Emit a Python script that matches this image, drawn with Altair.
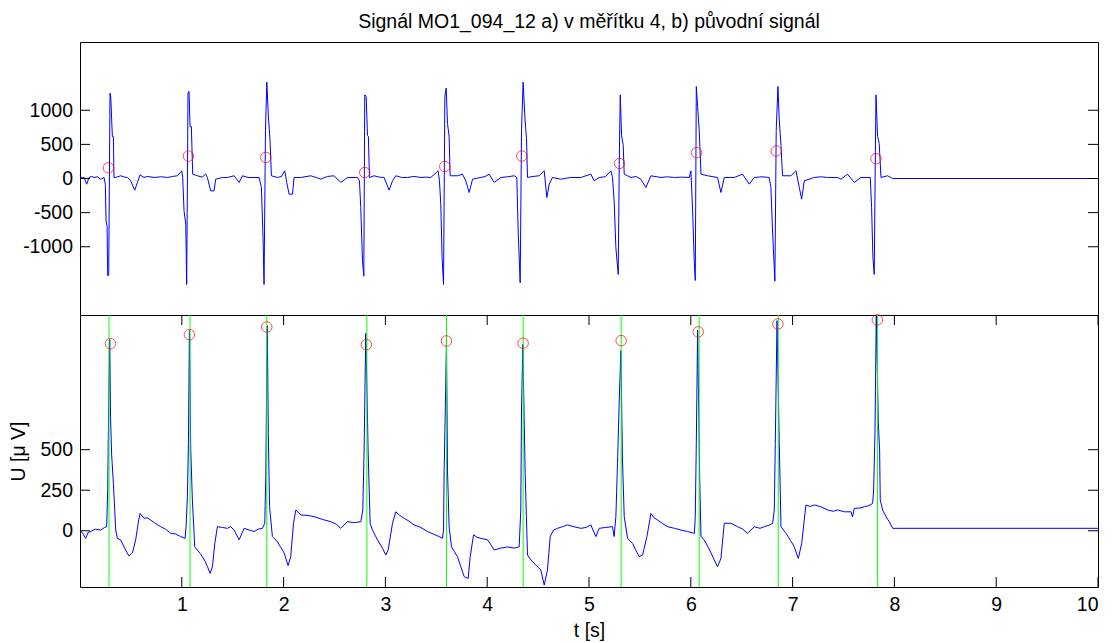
import altair as alt
import pandas as pd

TITLE = "Signál MO1_094_12 a) v měřítku 4, b) původní signál"
X_TITLE = "t [s]"
Y_TITLE = "U [μ V]"

# ---- top panel: signal at scale 4 (wavelet) ----
top_t = [
    0.000, 0.020, 0.040, 0.066, 0.089, 0.115, 0.138, 0.170, 0.203, 0.236, 0.249, 0.256, 0.266, 0.272, 0.282, 0.295, 0.302, 0.318, 0.328, 0.334, 0.351, 0.400, 0.440, 0.466, 0.498, 0.538, 0.564, 0.590, 0.629, 0.660,
    0.728, 0.800, 0.859, 0.910, 0.957, 1.000, 1.009, 1.022, 1.039, 1.048, 1.061, 1.071, 1.081, 1.094, 1.107, 1.153, 1.200, 1.235, 1.251, 1.284, 1.317, 1.333, 1.400, 1.448,
    1.514, 1.563, 1.596, 1.650, 1.710, 1.759, 1.782, 1.798, 1.808, 1.822, 1.835, 1.851, 1.867, 1.880, 1.939, 1.980, 2.011, 2.031, 2.054, 2.087, 2.103, 2.169,
    2.267, 2.320, 2.365, 2.430, 2.496, 2.562, 2.627, 2.726, 2.745, 2.758, 2.775, 2.788, 2.797, 2.811, 2.824, 2.833, 2.843, 2.889, 2.940, 2.987, 3.037, 3.070, 3.102, 3.160, 3.217, 3.280, 3.348, 3.400, 3.446,
    3.518, 3.531, 3.544, 3.557, 3.571, 3.584, 3.597, 3.610, 3.626, 3.636, 3.708, 3.757, 3.790, 3.823, 3.856, 3.938, 3.980, 4.020, 4.068, 4.134, 4.200, 4.265,
    4.291, 4.304, 4.324, 4.337, 4.353, 4.370, 4.386, 4.396, 4.450, 4.511, 4.560, 4.586, 4.609, 4.642, 4.723, 4.822, 4.920, 5.018, 5.051, 5.100, 5.160,
    5.215, 5.231, 5.247, 5.264, 5.287, 5.297, 5.307, 5.320, 5.336, 5.346, 5.412, 5.460, 5.510, 5.559, 5.608, 5.707, 5.770, 5.838, 5.910, 5.985,
    6.001, 6.018, 6.034, 6.044, 6.054, 6.067, 6.083, 6.100, 6.165, 6.263, 6.296, 6.329, 6.427, 6.508, 6.574, 6.623, 6.700, 6.770,
    6.787, 6.803, 6.826, 6.839, 6.856, 6.869, 6.886, 6.901, 6.983, 7.033, 7.066, 7.089, 7.115, 7.213, 7.280, 7.344, 7.442, 7.475, 7.540, 7.606, 7.671,
    7.763, 7.776, 7.789, 7.802, 7.812, 7.819, 7.835, 7.851, 7.868, 7.933, 7.983, 10.0,
]
top_u = [
    40, 10, 15, -83, 15, 30, 15, 25, -10, 15, -83, -622, -700, -1420, -1420, 1250, 1200, 613, 613, 15, 15, 40, 20, 15, -34, -171, -59, 54, 15, 30,
    15, 25, 15, 30, 40, 113, 15, -475, -671, -1553, 1250, 1275, 760, 760, 64, 40, 20, 64, 15, -181, -181, -10, 15, 15,
    40, -59, 40, 15, 15, 15, -132, -867, -1553, 701, 1412, 902, 554, 40, 15, 30, 113, -59, -230, -230, 15, 15,
    40, 15, -10, 30, 40, -59, 15, 15, -34, -426, -1210, -1431, 1226, 1202, 632, 613, 15, 40, 20, 15, -171, -34, 40, 15, 15, 30, 15, 20, 15,
    113, -34, -377, -1162, -1553, 1202, 1324, 809, 613, 40, 40, 64, -34, -205, -10, 15, 30, 64, -59, 15, 25, 40,
    15, -769, -1529, 701, 1412, 902, 583, 15, 30, 40, 113, -279, -83, 15, -10, 15, 15, 64, -34, 15, 25,
    113, 15, -328, -1014, -1406, 211, 1226, 632, 485, 64, 15, 30, -10, -132, 40, 15, 25, 15, 20, 15,
    113, -475, -1210, -1494, 1348, 1054, 701, 64, 40, 15, -205, 15, 15, 64, -83, 15, 25, 15,
    -132, -769, -1504, 701, 1348, 858, 485, 40, 40, 113, -132, -303, -34, 15, 25, 15, 15, -10, 64, -59, 15,
    15, -426, -1162, -1406, 211, 1226, 613, 514, 15, 40, 0, 0,
]

# ---- bottom panel: original signal ----
bot_t = [
    0.000, 0.025, 0.056, 0.080, 0.105, 0.150, 0.203, 0.240, 0.262, 0.272, 0.282, 0.292, 0.300, 0.311, 0.328, 0.351, 0.367, 0.400, 0.440, 0.482, 0.515, 0.547, 0.575, 0.590, 0.629, 0.660, 0.695, 0.740, 0.793, 0.840, 0.891, 0.940, 0.989,
    1.032, 1.042, 1.055, 1.065, 1.075, 1.088, 1.104, 1.127, 1.153, 1.180, 1.202, 1.230, 1.252, 1.278, 1.301, 1.324, 1.350, 1.400, 1.448, 1.480, 1.514, 1.563, 1.612, 1.660, 1.710, 1.750, 1.792,
    1.815, 1.825, 1.831, 1.840, 1.850, 1.862, 1.890, 1.939, 1.970, 2.005, 2.044, 2.070, 2.097, 2.120, 2.169, 2.230, 2.300, 2.380, 2.464, 2.520, 2.562, 2.627, 2.690, 2.759,
    2.778, 2.791, 2.807, 2.818, 2.830, 2.850, 2.873, 2.922, 2.971, 3.004, 3.027, 3.070, 3.102, 3.140, 3.184, 3.230, 3.282, 3.350, 3.413, 3.470, 3.528, 3.561,
    3.571, 3.577, 3.590, 3.600, 3.610, 3.626, 3.649, 3.680, 3.708, 3.740, 3.774, 3.813, 3.833, 3.866, 3.900, 3.938, 4.004, 4.040, 4.068, 4.134, 4.200, 4.265, 4.314,
    4.330, 4.337, 4.350, 4.373, 4.396, 4.430, 4.461, 4.500, 4.527, 4.560, 4.592, 4.619, 4.651, 4.691, 4.740, 4.789, 4.850, 4.920, 4.970, 5.018, 5.067, 5.100, 5.160, 5.231, 5.247,
    5.264, 5.280, 5.297, 5.313, 5.329, 5.346, 5.379, 5.428, 5.460, 5.493, 5.526, 5.569, 5.608, 5.640, 5.674, 5.720, 5.772, 5.840, 5.904, 5.970, 6.035,
    6.044, 6.054, 6.067, 6.087, 6.100, 6.132, 6.165, 6.198, 6.230, 6.263, 6.296, 6.329, 6.394, 6.460, 6.510, 6.558, 6.623, 6.680, 6.722, 6.770, 6.804,
    6.820, 6.830, 6.847, 6.869, 6.886, 6.935, 6.980, 7.016, 7.056, 7.089, 7.131, 7.170, 7.213, 7.278, 7.344, 7.400, 7.442, 7.508, 7.573, 7.589, 7.606, 7.660, 7.704, 7.750, 7.786,
    7.796, 7.809, 7.822, 7.842, 7.855, 7.861, 7.884, 7.917, 7.950, 7.983, 10.0,
]
bot_u = [
    4, -15, -47, -10, -5, 10, 4, 20, 25, 250, 800, 1181, 700, 467, 292, 4, -47, -56, -110, -156, -136, -56, 60, 107, 77, 80, 66, 45, 25, 10, -16, -20, -36,
    -47, 25, 210, 539, 1235, 498, 189, -99, -119, -140, -160, -190, -222, -263, -222, -78, 25, 20, 15, 25, 4, -56, 15, 5, -5, 10, 15,
    46, 333, 745, 1265, 600, 150, -36, -67, -100, -136, -215, -160, 46, 128, 97, 95, 87, 70, 56, 40, 15, 56, 50, 56,
    128, 498, 1218, 900, 498, 46, 4, -56, -107, -150, -119, 46, 117, 95, 77, 60, 36, 20, -5, -20, -36, -47,
    4, 374, 800, 1180, 374, 25, -99, -130, -160, -220, -284, -294, -160, -25, -40, -47, -56, -90, -119, -107, -100, -107, -99,
    128, 745, 1150, 353, -150, -180, -201, -225, -242, -335, -242, -36, 4, 15, 25, 36, 25, 15, 20, 36, -36, 15, 20, 25, -36,
    87, 415, 800, 1110, 436, 87, -47, -78, -120, -160, -150, -36, 107, 80, 66, 45, 25, 15, 4, -5, -16,
    87, 539, 1238, 333, -36, -56, -95, -136, -180, -222, -171, 46, 46, 25, 10, -16, 25, 15, 25, 35, 46,
    128, 539, 1296, 539, 25, -16, -60, -99, -171, -78, 159, 150, 159, 148, 128, 120, 128, 117, 117, 87, 138, 140, 148, 155, 169,
    251, 600, 1331, 662, 498, 189, 128, 87, 56, 15, 15,
]

# detected R-wave positions (green lines) and markers (red circles)
r_times = [0.285, 1.081, 1.835, 2.818, 3.600, 4.353, 5.316, 6.082, 6.859, 7.835]
top_circ_t = [0.279, 1.065, 1.825, 2.797, 3.583, 4.340, 5.300, 6.057, 6.839, 7.819]
top_circ_u = [157, 329, 309, 88, 176, 329, 221, 378, 403, 290]
bot_circ_t = [0.299, 1.075, 1.835, 2.813, 3.600, 4.353, 5.316, 6.073, 6.856, 7.832]
bot_circ_u = [1154, 1210, 1257, 1148, 1171, 1157, 1173, 1227, 1276, 1301]

x_ticks = [1, 2, 3, 4, 5, 6, 7, 8, 9, 10]
top_yticks = [-1000, -500, 0, 500, 1000]
bot_yticks = [0, 250, 500]
x_domain = [0, 10]
top_domain = [-2000, 2000]
bot_domain = [-347, 1331]

W = 1018
H1 = 273
H2 = 272
FONT = "Liberation Sans"
FS = 19.5
TICK = 10

xscale = alt.Scale(domain=x_domain, nice=False, zero=False)
ytop = alt.Scale(domain=top_domain, nice=False, zero=False)
ybot = alt.Scale(domain=bot_domain, nice=False, zero=False)

top_df = pd.DataFrame({"t": top_t, "u": top_u})
bot_df = pd.DataFrame({"t": bot_t, "u": bot_u})
r_df = pd.DataFrame({"t": r_times})
tc_df = pd.DataFrame({"t": top_circ_t, "u": top_circ_u})
bc_df = pd.DataFrame({"t": bot_circ_t, "u": bot_circ_u})
xt_df = pd.DataFrame({"t": x_ticks})
tyt_df = pd.DataFrame({"u": top_yticks})
byt_df = pd.DataFrame({"u": bot_yticks})

common = dict(
    ticks=False, tickSize=0, domain=False, grid=False,
    labelFontSize=FS, labelFont=FONT, labelColor="black",
    titleFontSize=FS, titleFont=FONT, titleColor="black", titleFontWeight="normal",
    labelExpr="'' + datum.value",
)
top_yaxis = alt.Axis(values=top_yticks, title=None, labelPadding=7.5, **common)
bot_yaxis = alt.Axis(values=bot_yticks, title=Y_TITLE, labelPadding=7.5, titlePadding=11, **common)
bot_xaxis = alt.Axis(values=x_ticks, title=X_TITLE, labelPadding=8, titlePadding=8, **common)

TX = alt.X("t:Q", scale=xscale, axis=None)
TY = alt.Y("u:Q", scale=ytop, axis=top_yaxis)
BX = alt.X("t:Q", scale=xscale, axis=bot_xaxis)
BY = alt.Y("u:Q", scale=ybot, axis=bot_yaxis)

# ---------- top panel ----------
top_line = alt.Chart(top_df).mark_line(color="#0000ff", strokeWidth=1).encode(x=TX, y=TY)
top_circ = alt.Chart(tc_df).mark_point(
    shape="circle", filled=False, color="#ff0000", size=110, strokeWidth=1).encode(x=TX, y=TY)
top_lt = alt.Chart(tyt_df).mark_rule(color="black", strokeWidth=1).encode(
    y=TY, x=alt.value(0), x2=alt.value(TICK))
top_rt = alt.Chart(tyt_df).mark_rule(color="black", strokeWidth=1).encode(
    y=TY, x=alt.value(W - TICK), x2=alt.value(W))

top = alt.layer(top_line, top_circ, top_lt, top_rt).properties(
    width=W, height=H1,
    title=alt.TitleParams(TITLE, font=FONT, fontSize=FS, fontWeight="normal", color="black",
                          anchor="middle", frame="group", baseline="alphabetic", offset=-5),
)

# ---------- bottom panel ----------
bot_line = alt.Chart(bot_df).mark_line(color="#0000ff", strokeWidth=1).encode(x=BX, y=BY)
bot_r = alt.Chart(r_df).mark_rule(color="#00ff00", strokeWidth=1).encode(x=BX)
bot_circ = alt.Chart(bc_df).mark_point(
    shape="circle", filled=False, color="#ff0000", size=110, strokeWidth=1).encode(x=BX, y=BY)
bot_lt = alt.Chart(byt_df).mark_rule(color="black", strokeWidth=1).encode(
    y=BY, x=alt.value(0), x2=alt.value(TICK))
bot_rt = alt.Chart(byt_df).mark_rule(color="black", strokeWidth=1).encode(
    y=BY, x=alt.value(W - TICK), x2=alt.value(W))
bot_tt = alt.Chart(xt_df).mark_rule(color="black", strokeWidth=1).encode(
    x=BX, y=alt.value(0), y2=alt.value(TICK))
bot_bt = alt.Chart(xt_df).mark_rule(color="black", strokeWidth=1).encode(
    x=BX, y=alt.value(H2 - TICK), y2=alt.value(H2))

bottom = alt.layer(bot_line, bot_r, bot_circ, bot_lt, bot_rt, bot_tt, bot_bt).properties(width=W, height=H2)

chart = alt.vconcat(top, bottom, spacing=0, bounds="flush").properties(
    padding={"left": 0, "top": 3, "right": 5, "bottom": 0},
    background="white",
).configure_view(stroke="black", strokeWidth=1)

chart.save("out.html", embed_options={"renderer": "svg", "actions": False})
